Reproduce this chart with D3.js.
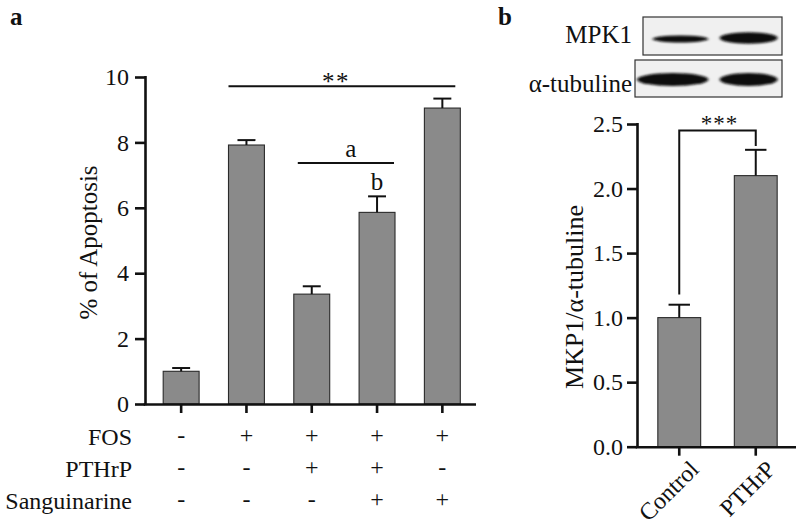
<!DOCTYPE html>
<html>
<head>
<meta charset="utf-8">
<script src="https://cdn.jsdelivr.net/npm/d3@7"></script>
<style>
  html, body { margin: 0; padding: 0; background: #fff; }
  svg { display: block; }
  text { font-family: "Liberation Serif", "Times New Roman", serif; fill: #111; }
</style>
</head>
<body>
<svg id="chart" width="800" height="525"></svg>
<script>
// ---------- Panel a data ----------
const groupsA = ["g1", "g2", "g3", "g4", "g5"];
const apoptosis = [1.0, 7.92, 3.36, 5.86, 9.05];
const apoptosisErr = [0.1, 0.15, 0.24, 0.49, 0.29];
const ticksA = [0, 2, 4, 6, 8, 10];
const treatmentRows = ["FOS", "PTHrP", "Sanguinarine"];
const fosSigns = ["-", "+", "+", "+", "+"];
const pthrpSigns = ["-", "-", "+", "+", "-"];
const sanguinarineSigns = ["-", "-", "-", "+", "+"];

// ---------- Panel b data ----------
const categoriesB = ["Control", "PTHrP"];
const mkp1Ratio = [1.0, 2.10];
const mkp1Err = [0.1, 0.2];
const ticksB = [0, 0.5, 1.0, 1.5, 2.0, 2.5];
const blotRows = ["MPK1", "α-tubuline"];
const mpk1BandStrength = [0.45, 0.85];
const tubulinBandStrength = [1.0, 1.0];

const svg = d3.select("#chart");
svg.append("rect").attr("width", 800).attr("height", 525).attr("fill", "#fff");

const BAR_FILL = "#8a8a8a";
const AXIS_W = 2.6;

// blur filter for blot bands
const defs = svg.append("defs");
defs.append("filter").attr("id", "blur").attr("x", "-20%").attr("y", "-60%")
  .attr("width", "140%").attr("height", "220%")
  .append("feGaussianBlur").attr("stdDeviation", "1.8 1.3");

// ================= Panel a =================
const xA = d3.scaleBand().domain(groupsA).range([148.5, 475]).paddingInner(0.45).paddingOuter(0.225);
const yA = d3.scaleLinear().domain([0, 10]).range([404, 77]);

svg.append("text").attr("x", 10).attr("y", 25)
  .attr("font-size", 25).attr("font-weight", "bold").text("a");

const gA = svg.append("g");

// bars
gA.selectAll("rect.bar").data(groupsA).join("rect")
  .attr("x", d => xA(d)).attr("width", xA.bandwidth())
  .attr("y", (d, i) => yA(apoptosis[i]))
  .attr("height", (d, i) => yA(0) - yA(apoptosis[i]))
  .attr("fill", BAR_FILL).attr("stroke", "#2a2a2a").attr("stroke-width", 1.1);

// error bars (upper only)
const capA = xA.bandwidth() / 2;
groupsA.forEach((g, i) => {
  const cx = xA(g) + xA.bandwidth() / 2;
  const top = yA(apoptosis[i] + apoptosisErr[i]);
  gA.append("line").attr("x1", cx).attr("x2", cx).attr("y1", yA(apoptosis[i])).attr("y2", top)
    .attr("stroke", "#111").attr("stroke-width", 2);
  gA.append("line").attr("x1", cx - capA / 2).attr("x2", cx + capA / 2).attr("y1", top).attr("y2", top)
    .attr("stroke", "#111").attr("stroke-width", 2);
});

// axes
const axisLeftA = gA.append("g").attr("transform", `translate(145,0)`)
  .call(d3.axisLeft(yA).tickValues(ticksA).tickFormat(d3.format("d")).tickSize(10).tickSizeOuter(0).tickPadding(6));
const axisBottomA = gA.append("g").attr("transform", `translate(0,404)`)
  .call(d3.axisBottom(xA).tickSize(9).tickSizeOuter(0).tickFormat(""));
axisBottomA.select(".domain").attr("d", "M143.7,0.5H476");
[axisLeftA, axisBottomA].forEach(ax => {
  ax.select(".domain").attr("stroke", "#111").attr("stroke-width", AXIS_W);
  ax.selectAll(".tick line").attr("stroke", "#111").attr("stroke-width", AXIS_W);
});
axisLeftA.select(".domain").attr("d", "M0.5," + (yA(10) - 1) + "V" + (yA(0) + 1.3));
axisLeftA.selectAll(".tick text").attr("font-size", 24).attr("fill", "#111")
  .style("font-family", '"Liberation Serif", serif');

// y title
svg.append("text").attr("transform", `translate(97,${(yA(0) + yA(10)) / 2 + 2}) rotate(-90)`)
  .attr("text-anchor", "middle").attr("font-size", 25).text("% of Apoptosis");

// significance
const starsX1 = xA("g2");
const starsX2 = xA("g5") + xA.bandwidth() - 5;
gA.append("line").attr("x1", starsX1).attr("x2", starsX2).attr("y1", yA(9.72)).attr("y2", yA(9.72))
  .attr("stroke", "#111").attr("stroke-width", 2);
gA.append("text").attr("x", (starsX1 + starsX2) / 2 - 6).attr("y", yA(9.72) + 4)
  .attr("text-anchor", "middle").attr("font-size", 25).attr("letter-spacing", 1.5).text("**");

const aX1 = xA("g3") + 4;
const aX2 = xA("g4") + xA.bandwidth() - 1;
gA.append("line").attr("x1", aX1).attr("x2", aX2).attr("y1", yA(7.37)).attr("y2", yA(7.37))
  .attr("stroke", "#111").attr("stroke-width", 2);
gA.append("text").attr("x", (aX1 + aX2) / 2 + 5).attr("y", yA(7.37) - 6)
  .attr("text-anchor", "middle").attr("font-size", 25).text("a");
gA.append("text").attr("x", xA("g4") + xA.bandwidth() / 2).attr("y", yA(apoptosis[3] + apoptosisErr[3]) - 6)
  .attr("text-anchor", "middle").attr("font-size", 25).text("b");

// treatment table
const signRows = [fosSigns, pthrpSigns, sanguinarineSigns];
const rowY = [445, 477, 509];
treatmentRows.forEach((name, r) => {
  svg.append("text").attr("x", 132).attr("y", rowY[r]).attr("text-anchor", "end")
    .attr("font-size", 24).text(name);
  svg.selectAll(null).data(groupsA).join("text")
    .attr("x", d => xA(d) + xA.bandwidth() / 2)
    .attr("y", rowY[r] - 2)
    .attr("text-anchor", "middle").attr("font-size", 24)
    .text((d, i) => signRows[r][i]);
});

// ================= Panel b =================
svg.append("text").attr("x", 498).attr("y", 25)
  .attr("font-size", 25).attr("font-weight", "bold").text("b");

// western blot
const blotX = d3.scaleBand().domain(categoriesB).range([645, 782]).paddingInner(0.06).paddingOuter(0.02);
const blotBoxes = [{ x0: 643, y0: 17, y1: 55 }, { x0: 635, y0: 60, y1: 97 }];
const bandStrengths = [mpk1BandStrength, tubulinBandStrength];
blotRows.forEach((name, r) => {
  const b = blotBoxes[r];
  svg.append("rect").attr("x", b.x0).attr("y", b.y0).attr("width", 782 - b.x0).attr("height", b.y1 - b.y0)
    .attr("fill", "#f0f0f0").attr("stroke", "#333").attr("stroke-width", 1.2);
  const cy = (b.y0 + b.y1) / 2 + (r === 0 ? 3 : 1);
  categoriesB.forEach((c, i) => {
    const s = bandStrengths[r][i];
    const left = (r === 1 && i === 0) ? b.x0 + 2 : blotX(c) + (i === 0 ? 6 : 4);
    const right = blotX(c) + blotX.bandwidth() - 3;
    svg.append("ellipse")
      .attr("cx", (left + right) / 2).attr("cy", cy - (r === 0 && i === 1 ? 1 : 0))
      .attr("rx", (right - left) / 2).attr("ry", 1 + 5.5 * s)
      .attr("fill", "#0c0c0c").attr("filter", "url(#blur)");
  });
  svg.append("text").attr("x", 632).attr("y", r === 0 ? 43 : 92).attr("text-anchor", "end")
    .attr("font-size", 25).text(name);
});

// bar chart b
const xB = d3.scaleBand().domain(categoriesB).range([641, 794]).paddingInner(0.44).paddingOuter(0.22);
const yB = d3.scaleLinear().domain([0, 2.5]).range([446.7, 124]);
const gB = svg.append("g");

gB.selectAll("rect.bar").data(categoriesB).join("rect")
  .attr("x", d => xB(d)).attr("width", xB.bandwidth())
  .attr("y", (d, i) => yB(mkp1Ratio[i]))
  .attr("height", (d, i) => yB(0) - yB(mkp1Ratio[i]))
  .attr("fill", BAR_FILL).attr("stroke", "#2a2a2a").attr("stroke-width", 1.1);

const capB = xB.bandwidth() / 2;
categoriesB.forEach((c, i) => {
  const cx = xB(c) + xB.bandwidth() / 2;
  const top = yB(mkp1Ratio[i] + mkp1Err[i]);
  gB.append("line").attr("x1", cx).attr("x2", cx).attr("y1", yB(mkp1Ratio[i])).attr("y2", top)
    .attr("stroke", "#111").attr("stroke-width", 2);
  gB.append("line").attr("x1", cx - capB / 2).attr("x2", cx + capB / 2).attr("y1", top).attr("y2", top)
    .attr("stroke", "#111").attr("stroke-width", 2);
});

const axisLeftB = gB.append("g").attr("transform", `translate(637,0)`)
  .call(d3.axisLeft(yB).tickValues(ticksB).tickFormat(d3.format(".1f")).tickSize(10).tickSizeOuter(0).tickPadding(4));
const axisBottomB = gB.append("g").attr("transform", `translate(0,446.7)`)
  .call(d3.axisBottom(xB).tickSize(9).tickSizeOuter(0).tickFormat(""));
axisBottomB.select(".domain").attr("d", "M635.7,0.5H796");
[axisLeftB, axisBottomB].forEach(ax => {
  ax.select(".domain").attr("stroke", "#111").attr("stroke-width", AXIS_W);
  ax.selectAll(".tick line").attr("stroke", "#111").attr("stroke-width", AXIS_W);
});
axisLeftB.select(".domain").attr("d", "M0.5," + (yB(2.5) - 1) + "V" + (yB(0) + 1.3));
axisLeftB.selectAll(".tick text").attr("font-size", 24).attr("fill", "#111")
  .style("font-family", '"Liberation Serif", serif');

// rotated category labels
gB.selectAll("text.cat").data(categoriesB).join("text")
  .attr("class", "cat")
  .attr("transform", d => `translate(${xB(d) + xB.bandwidth() / 2 + 21},${yB(0) + 24}) rotate(-45)`)
  .attr("text-anchor", "end").attr("font-size", 24).text(d => d);

// y title b
svg.append("text").attr("transform", `translate(583,297) rotate(-90)`)
  .attr("text-anchor", "middle").attr("font-size", 26).text("MKP1/α-tubuline");

// significance bracket
const bx1 = xB("Control") + xB.bandwidth() / 2;
const bx2 = xB("PTHrP") + xB.bandwidth() / 2;
gB.append("path")
  .attr("d", `M${bx1},${yB(1.18)}V${yB(2.45)}H${bx2}V${yB(2.33)}`)
  .attr("fill", "none").attr("stroke", "#111").attr("stroke-width", 2);
gB.append("text").attr("x", (bx1 + bx2) / 2 + 2).attr("y", yB(2.45) + 1)
  .attr("text-anchor", "middle").attr("font-size", 23).attr("letter-spacing", 1).text("***");
</script>
</body>
</html>
